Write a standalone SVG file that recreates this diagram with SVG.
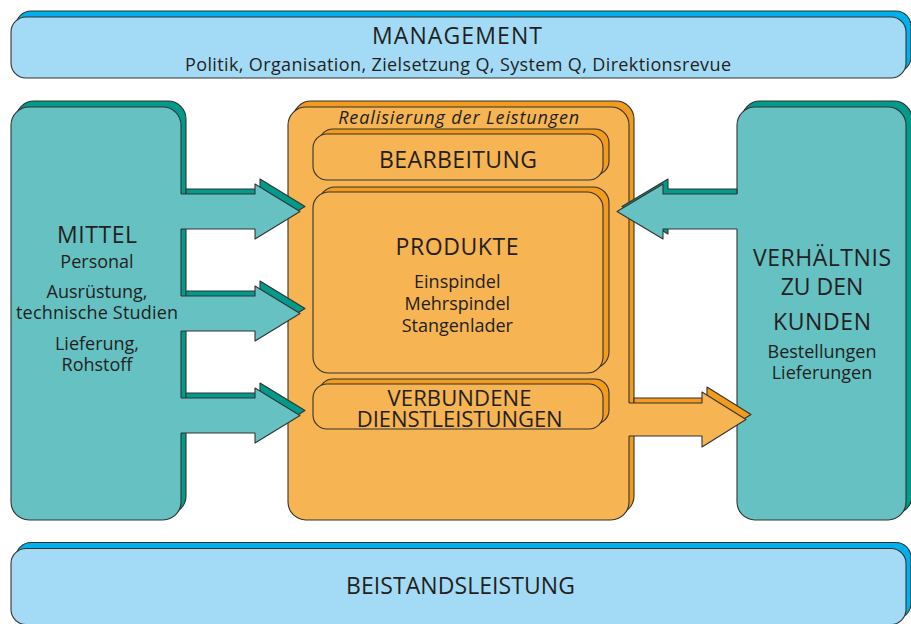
<svg xmlns="http://www.w3.org/2000/svg" width="911" height="624" viewBox="0 0 911 624">
<style>
.ln{stroke:#333;stroke-width:1.1;stroke-linejoin:round}
.bb{fill:#00b0ea}.bf{fill:#a3dbf6}
.tb{fill:#009b8a}.tf{fill:#66c1c3}
.ob{fill:#f39b1c}.of{fill:#f6b452}
.nf{stroke:none}
.open{fill:none;stroke:#333;stroke-width:1.1;stroke-linejoin:round}
text{font-family:"Open Sans","Noto Sans","Liberation Sans",sans-serif;fill:#231f20;text-anchor:middle}
.big{font-size:23px}
.sm{font-size:18px}
</style>
<rect width="911" height="624" fill="#fff"/>
<g id="management">
<rect class="ln bb" x="16" y="11" width="895" height="61" rx="15"/>
<rect class="ln bf" x="11" y="17" width="895" height="61" rx="15"/>
<text class="big" x="457" y="43.5" textLength="170">MANAGEMENT</text>
<text class="sm" x="458" y="71" textLength="546">Politik, Organisation, Zielsetzung Q, System Q, Direktionsrevue</text>
</g>
<g id="beistandsleistung">
<rect class="ln bb" x="16" y="542.5" width="895" height="76" rx="15"/>
<rect class="ln bf" x="11" y="548.5" width="895" height="76" rx="15"/>
<text class="big" x="460.5" y="594.3" textLength="229">BEISTANDSLEISTUNG</text>
</g>
<g id="mittel">
<rect class="ln tb" x="16" y="101" width="170" height="413" rx="18"/>
<rect class="ln tf" x="11" y="107" width="170" height="413" rx="18"/>
<text class="big" x="97" y="243" textLength="80">MITTEL</text>
<text class="sm" x="97" y="267.7">Personal</text>
<text class="sm" x="97" y="298.3">Ausrüstung,</text>
<text class="sm" x="97" y="319.3" textLength="162">technische Studien</text>
<text class="sm" x="97" y="350">Lieferung,</text>
<text class="sm" x="97" y="370.7">Rohstoff</text>
</g>
<g id="realisierung">
<rect class="ln ob" x="293" y="101" width="341" height="413" rx="18"/>
<rect class="ln of" x="288" y="107" width="341" height="413" rx="18"/>
<text x="458.7" y="123.5" font-size="18" font-style="italic" textLength="241">Realisierung der Leistungen</text>
</g>
<g id="bearbeitung">
<rect class="ln ob" x="319" y="129" width="290" height="46" rx="14"/>
<rect class="ln of" x="313" y="134" width="290" height="46" rx="14"/>
<text class="big" x="458" y="167.7" textLength="158">BEARBEITUNG</text>
</g>
<g id="produkte">
<rect class="ln ob" x="319" y="187" width="290" height="181" rx="16"/>
<rect class="ln of" x="313" y="192" width="290" height="181" rx="16"/>
<text class="big" x="457" y="255" textLength="123">PRODUKTE</text>
<text class="sm" x="457.3" y="287.5">Einspindel</text>
<text class="sm" x="457.3" y="310">Mehrspindel</text>
<text class="sm" x="457.3" y="332">Stangenlader</text>
</g>
<g id="dienstleistungen">
<rect class="ln ob" x="319" y="379" width="290" height="45" rx="14"/>
<rect class="ln of" x="313" y="384" width="290" height="45" rx="14"/>
<text x="459.5" y="406" font-size="22" textLength="144">VERBUNDENE</text>
<text x="459.7" y="426.7" font-size="22" textLength="206">DIENSTLEISTUNGEN</text>
</g>
<g id="kunden">
<rect class="ln tb" x="742" y="101" width="170" height="413" rx="18"/>
<rect class="ln tf" x="737" y="107" width="169" height="413" rx="18"/>
<text class="big" x="822" y="265.7" textLength="138">VERHÄLTNIS</text>
<text class="big" x="822" y="295">ZU DEN</text>
<text class="big" x="822" y="330" textLength="98">KUNDEN</text>
<text class="sm" x="822" y="358.3">Bestellungen</text>
<text class="sm" x="822" y="379">Lieferungen</text>
</g>
<g id="connectors">
<polygon class="ln tb" points="186,189 260,189 260,179 305,206.5 260,234 260,224 186,224"/>
<polygon class="tf nf" points="178,194 255,194 255,184 300,211.5 255,239 255,229 178,229"/>
<path class="open" d="M181,194 H255 V184 L300,211.5 L255,239 V229 H181"/>
<polygon class="ln tb" points="186,291 260,291 260,281 305,308.5 260,336 260,326 186,326"/>
<polygon class="tf nf" points="178,296 255,296 255,286 300,313.5 255,341 255,331 178,331"/>
<path class="open" d="M181,296 H255 V286 L300,313.5 L255,341 V331 H181"/>
<polygon class="ln tb" points="186,393 260,393 260,383 305,410.5 260,438 260,428 186,428"/>
<polygon class="tf nf" points="178,398 255,398 255,388 300,415.5 255,443 255,433 178,433"/>
<path class="open" d="M181,398 H255 V388 L300,415.5 L255,443 V433 H181"/>
<polygon class="ln tb" points="737,189 668,189 668,179 622,206.5 668,234 668,224 737,224"/>
<polygon class="tf nf" points="740,194 663,194 663,184 617,211.5 663,239 663,229 740,229"/>
<path class="open" d="M737,194 H663 V184 L617,211.5 L663,239 V229 H737"/>
<polygon class="ln ob" points="634,398 707,398 707,387 751,414.5 707,442 707,431 634,431"/>
<polygon class="of nf" points="626,403 702,403 702,392 746,419.5 702,447 702,436 626,436"/>
<path class="open" d="M629,403 H702 V392 L746,419.5 L702,447 V436 H629"/>
</g>
</svg>
